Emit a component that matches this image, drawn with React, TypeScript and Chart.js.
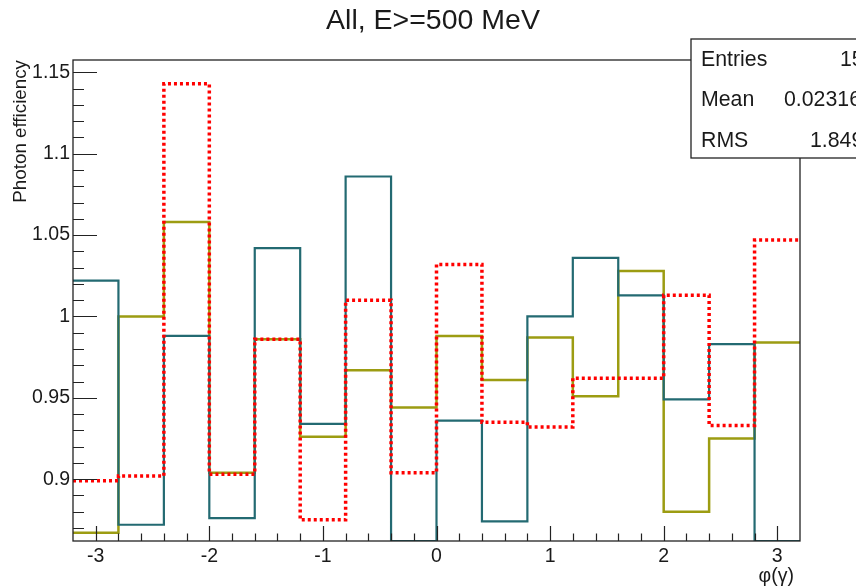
import React, { useEffect, useRef } from "react";
import { Chart, registerables } from "chart.js";

Chart.register(...registerables);

// ---- data ----
const binEdges = [-3.2, -2.8, -2.4, -2.0, -1.6, -1.2, -0.8, -0.4, 0.0, 0.4, 0.8, 1.2, 1.6, 2.0, 2.4, 2.8];
const upperEdge = 3.2;
const tealValues = [1.022, 0.872, 0.988, 0.876, 1.042, 0.934, 1.086, 0.855, 0.936, 0.874, 1.0, 1.036, 1.013, 0.949, 0.983, 0.855];
const oliveValues = [0.867, 1.0, 1.058, 0.904, 0.986, 0.926, 0.967, 0.944, 0.988, 0.961, 0.987, 0.951, 1.028, 0.88, 0.925, 0.984];
const redValues = [0.899, 0.902, 1.143, 0.903, 0.986, 0.875, 1.01, 0.904, 1.032, 0.935, 0.932, 0.962, 0.962, 1.013, 0.933, 1.047];
const xTickLabels = ["-3", "-2", "-1", "0", "1", "2", "3"];
const yTickLabels = ["0.9", "0.95", "1", "1.05", "1.1", "1.15"];
const titleText = "All, E>=500 MeV";
const yTitleText = "Photon efficiency";
const xTitleText = "φ(γ)";
const statsLabels = ["Entries", "Mean", "RMS"];
const statsValues = ["15", "0.02316", "1.849"];

const X_MIN = -3.2;
const X_MAX = 3.2;
const Y_MIN = 0.862;
const Y_MAX = 1.1576;
const X_MINOR = 0.2;
const Y_MINOR = 0.01;

const FONT = "'Liberation Sans', Arial, Helvetica, sans-serif";

function stepPoints(values: number[]) {
  const pts = binEdges.map((e, i) => ({ x: e, y: Math.max(values[i], Y_MIN) }));
  pts.push({ x: upperEdge, y: Math.max(values[values.length - 1], Y_MIN) });
  return pts;
}

function findLabel(list: string[], v: number) {
  for (const l of list) {
    if (Math.abs(Number(l) - v) < 1e-6) return l;
  }
  return "";
}

function tickValues(min: number, max: number, step: number) {
  const out: { value: number }[] = [];
  const start = Math.ceil(min / step - 1e-9);
  const end = Math.floor(max / step + 1e-9);
  for (let k = start; k <= end; k++) {
    out.push({ value: Math.round(k * step * 1e6) / 1e6 });
  }
  return out;
}

const decorPlugin = {
  id: "rootDecor",
  afterDraw(chart: any) {
    const ctx = chart.ctx as CanvasRenderingContext2D;
    const a = chart.chartArea;
    const xs = chart.scales.x;
    const ys = chart.scales.y;
    ctx.save();
    ctx.strokeStyle = "#222";
    ctx.lineWidth = 1.3;
    // frame
    ctx.strokeRect(a.left, a.top, a.right - a.left, a.bottom - a.top);
    // y ticks (inward)
    ctx.lineWidth = 1.2;
    ctx.beginPath();
    for (const t of ys.ticks) {
      const v = t.value;
      if (v <= Y_MIN + 1e-6 || v >= Y_MAX - 1e-6) continue;
      const major = findLabel(yTickLabels, v) !== "";
      const py = Math.round(ys.getPixelForValue(v)) + 0.5;
      ctx.moveTo(a.left, py);
      ctx.lineTo(a.left + (major ? 24 : 11), py);
    }
    // x ticks (inward)
    for (const t of xs.ticks) {
      const v = t.value;
      if (v <= X_MIN + 1e-6 || v >= X_MAX - 1e-6) continue;
      const major = findLabel(xTickLabels, v) !== "";
      const px = Math.round(xs.getPixelForValue(v)) + 0.5;
      ctx.moveTo(px, a.bottom);
      ctx.lineTo(px, a.bottom - (major ? 15 : 7.5));
    }
    ctx.stroke();

    // title
    ctx.fillStyle = "#1a1a1a";
    ctx.font = `28.5px ${FONT}`;
    ctx.textAlign = "center";
    ctx.textBaseline = "alphabetic";
    ctx.fillText(titleText, 433, 29);

    // y title
    ctx.save();
    ctx.translate(26, a.top);
    ctx.rotate(-Math.PI / 2);
    ctx.font = `18.8px ${FONT}`;
    ctx.textAlign = "right";
    ctx.fillText(yTitleText, 0, 0);
    ctx.restore();

    // x title
    ctx.font = `19.5px ${FONT}`;
    ctx.textAlign = "right";
    ctx.fillText(xTitleText, 794, 582);

    // stats box
    ctx.fillStyle = "#fff";
    ctx.fillRect(691, 39, 200, 119);
    ctx.strokeStyle = "#222";
    ctx.lineWidth = 1.3;
    ctx.strokeRect(691, 39, 200, 119);
    ctx.fillStyle = "#1a1a1a";
    ctx.font = `21.3px ${FONT}`;
    ctx.textAlign = "left";
    const baselines = [66, 106, 146.5];
    const valueX = [840, 784, 810];
    statsLabels.forEach((l, i) => {
      ctx.fillText(l, 701, baselines[i]);
      ctx.fillText(statsValues[i], valueX[i], baselines[i]);
    });
    ctx.restore();
  },
};

export default function App() {
  const ref = useRef<HTMLCanvasElement | null>(null);
  useEffect(() => {
    document.body.style.margin = "0";
    const canvas = ref.current!;
    const common = { stepped: "before", pointRadius: 0, fill: false, tension: 0 };
    const chart = new Chart(canvas, {
      type: "line",
      data: {
        datasets: [
          {
            ...common,
            label: "red",
            data: stepPoints(redValues),
            borderColor: "#ff0000",
            borderWidth: 3.5,
            borderDash: [3, 3],
            order: 0,
          },
          {
            ...common,
            label: "teal",
            data: stepPoints(tealValues),
            borderColor: "#236a72",
            borderWidth: 2.2,
            order: 1,
          },
          {
            ...common,
            label: "olive",
            data: stepPoints(oliveValues),
            borderColor: "#9c9c12",
            borderWidth: 2.5,
            order: 3,
          },
        ] as any,
      },
      options: {
        animation: false,
        responsive: false,
        devicePixelRatio: 1,
        layout: { padding: { top: 60, right: 56, left: 0, bottom: 0 } },
        plugins: {
          legend: { display: false },
          title: { display: false },
          tooltip: { enabled: false },
        },
        scales: {
          x: {
            type: "linear",
            min: X_MIN,
            max: X_MAX,
            grid: { display: false, drawTicks: false },
            border: { display: false },
            afterBuildTicks: (s: any) => {
              s.ticks = tickValues(X_MIN, X_MAX, X_MINOR);
            },
            ticks: {
              autoSkip: false,
              maxRotation: 0,
              padding: 4,
              color: "#1a1a1a",
              font: { family: FONT, size: 19.5 },
              callback: (v: any) => findLabel(xTickLabels, Number(v)),
            },
            afterFit: (s: any) => {
              s.height = 46;
            },
          },
          y: {
            type: "linear",
            min: Y_MIN,
            max: Y_MAX,
            grid: { display: false, drawTicks: false },
            border: { display: false },
            afterBuildTicks: (s: any) => {
              s.ticks = tickValues(Y_MIN, Y_MAX, Y_MINOR);
            },
            ticks: {
              autoSkip: false,
              padding: 3,
              color: "#1a1a1a",
              font: { family: FONT, size: 19.5 },
              callback: (v: any) => findLabel(yTickLabels, Number(v)),
            },
            afterFit: (s: any) => {
              s.width = 73;
            },
          },
        },
      } as any,
      plugins: [decorPlugin],
    });
    return () => chart.destroy();
  }, []);
  return (
    <div style={{ position: "fixed", left: 0, top: 0, width: 856, height: 587, background: "#fff" }}>
      <canvas ref={ref} width={856} height={587} style={{ display: "block" }} />
    </div>
  );
}
